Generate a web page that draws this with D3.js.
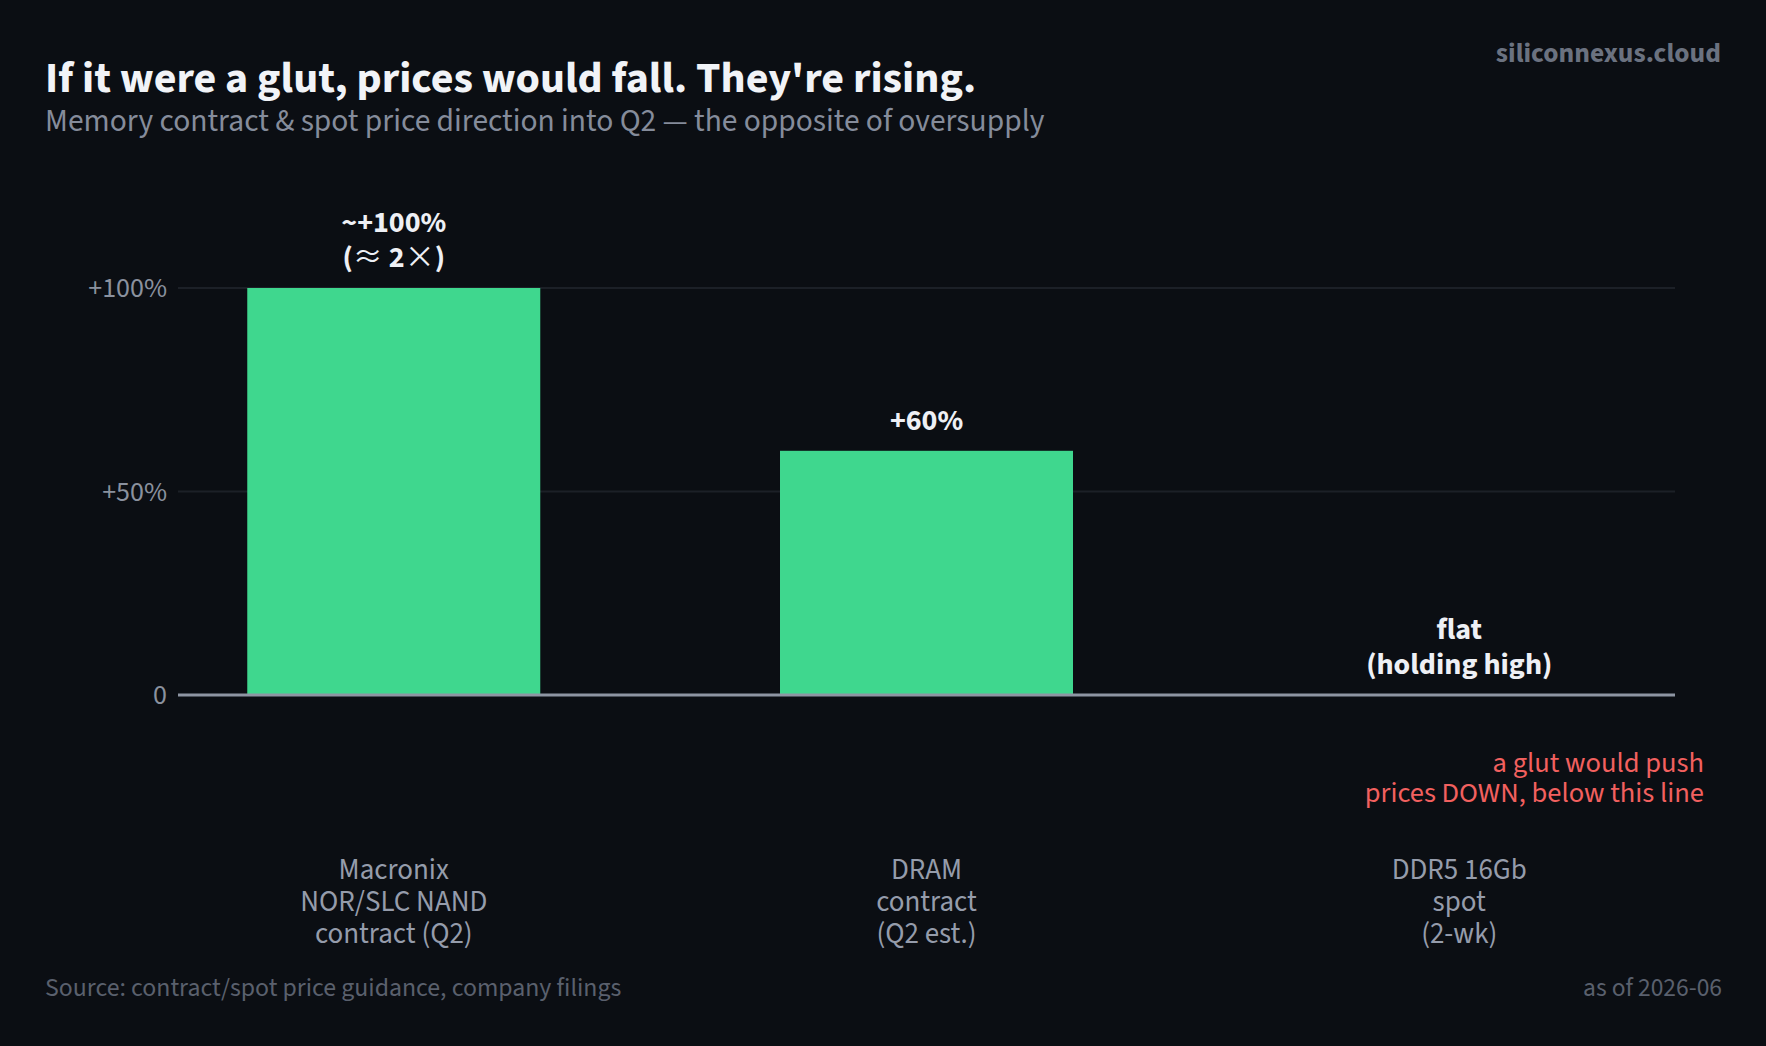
<!DOCTYPE html>
<html>
<head>
<meta charset="utf-8">
<script src="https://cdn.jsdelivr.net/npm/d3@7"></script>
<style>
  html, body { margin: 0; padding: 0; background: #0b0e13; }
  svg { display: block; font-family: "Source Sans 3", "Source Sans Pro", Lato, sans-serif; }
</style>
</head>
<body>
<svg id="chart"></svg>
<script>
// chart data
const categories = ['macronix', 'dram', 'ddr5'];
const categoryLabels = [
  ['Macronix', 'NOR/SLC NAND', 'contract (Q2)'],
  ['DRAM', 'contract', '(Q2 est.)'],
  ['DDR5 16Gb', 'spot', '(2-wk)']
];
const priceChange = [100, 60, 0];   // % change into Q2
const valueLabels = [
  ['~+100%', '(≈ 2×)'],
  ['+60%'],
  ['flat', '(holding high)']
];
const tickValues = [0, 50, 100];
const tickLabels = ['0', '+50%', '+100%'];

const width = 1766;
const height = 1046;

const svg = d3.select('#chart')
  .attr('width', width)
  .attr('height', height);

svg.append('rect')
  .attr('width', width)
  .attr('height', height)
  .attr('fill', '#0b0e13');

const x = d3.scaleBand()
  .domain(categories)
  .range([178, 1675])
  .paddingInner(0.45)
  .paddingOuter(0.13);

const y = d3.scaleLinear()
  .domain([0, 100])
  .range([695, 288]);

// grid lines
svg.append('g')
  .selectAll('line')
  .data(tickValues.filter(d => d !== 0))
  .enter()
  .append('line')
  .attr('x1', 178)
  .attr('x2', 1675)
  .attr('y1', d => y(d))
  .attr('y2', d => y(d))
  .attr('stroke', '#1c2027')
  .attr('stroke-width', 2);

// y axis (labels only)
const yAxis = svg.append('g')
  .attr('transform', 'translate(178,0)')
  .call(d3.axisLeft(y).tickValues(tickValues).tickSize(0).tickPadding(11)
    .tickFormat((d, i) => tickLabels[i]))
  .attr('font-family', null)
  .attr('font-size', null);
yAxis.select('.domain').remove();
yAxis.selectAll('text')
  .attr('fill', '#8a919e')
  .attr('font-size', 28);

// bars
svg.selectAll('.bar')
  .data(categories)
  .enter()
  .append('rect')
  .attr('class', 'bar')
  .attr('x', d => x(d))
  .attr('y', (d, i) => y(priceChange[i]))
  .attr('width', x.bandwidth())
  .attr('height', (d, i) => y(0) - y(priceChange[i]))
  .attr('fill', '#3fd78e');

// zero line
svg.append('line')
  .attr('x1', 178)
  .attr('x2', 1675)
  .attr('y1', y(0))
  .attr('y2', y(0))
  .attr('stroke', '#8e95a3')
  .attr('stroke-width', 3);

// value labels above bars (≈ and × drawn in a CJK face, full width like the original)
const wide = /[≈×]/;
categories.forEach((c, i) => {
  const lines = valueLabels[i];
  const cx = x(c) + x.bandwidth() / 2;
  const lastBase = y(priceChange[i]) - 21;
  lines.forEach((line, j) => {
    const row = svg.append('text')
      .attr('x', cx)
      .attr('y', lastBase - (lines.length - 1 - j) * 35)
      .attr('text-anchor', 'middle')
      .attr('fill', '#eef0f5')
      .attr('font-weight', 700)
      .attr('font-size', 30);
    line.split(/([≈×])/).filter(s => s.length).forEach(part => {
      const s = row.append('tspan').text(part);
      if (wide.test(part)) {
        s.attr('font-family', '"Noto Sans CJK JP"').attr('font-weight', 400);
      }
    });
  });
});

// category labels
categories.forEach((c, i) => {
  const cx = x(c) + x.bandwidth() / 2;
  const t = svg.append('text')
    .attr('text-anchor', 'middle')
    .attr('fill', '#959cab')
    .attr('font-size', 29);
  categoryLabels[i].forEach((line, j) => {
    t.append('tspan')
      .attr('x', cx)
      .attr('y', 879 + j * 32)
      .text(line);
  });
});

// annotation under the zero line
const note = svg.append('text')
  .attr('text-anchor', 'end')
  .attr('fill', '#f2605f')
  .attr('font-size', 28.5);
['a glut would push', 'prices DOWN, below this line'].forEach((line, j) => {
  note.append('tspan')
    .attr('x', 1704)
    .attr('y', 772 + j * 30)
    .text(line);
});

// titles
svg.append('text')
  .attr('x', 45)
  .attr('y', 92)
  .attr('fill', '#f1f3f7')
  .attr('font-weight', 700)
  .attr('font-size', 44)
  .text("If it were a glut, prices would fall. They're rising.");

svg.append('text')
  .attr('x', 45)
  .attr('y', 131)
  .attr('fill', '#858c9b')
  .attr('font-size', 31.5)
  .text('Memory contract & spot price direction into Q2 — the opposite of oversupply');

svg.append('text')
  .attr('x', 1721)
  .attr('y', 62)
  .attr('text-anchor', 'end')
  .attr('fill', '#6b7280')
  .attr('font-weight', 700)
  .attr('font-size', 27.5)
  .text('siliconnexus.cloud');

// footer
svg.append('text')
  .attr('x', 45)
  .attr('y', 996)
  .attr('fill', '#5a606d')
  .attr('font-size', 25.8)
  .text('Source: contract/spot price guidance, company filings');

svg.append('text')
  .attr('x', 1722)
  .attr('y', 996)
  .attr('text-anchor', 'end')
  .attr('fill', '#5a606d')
  .attr('font-size', 25.5)
  .text('as of 2026-06');
</script>
</body>
</html>
